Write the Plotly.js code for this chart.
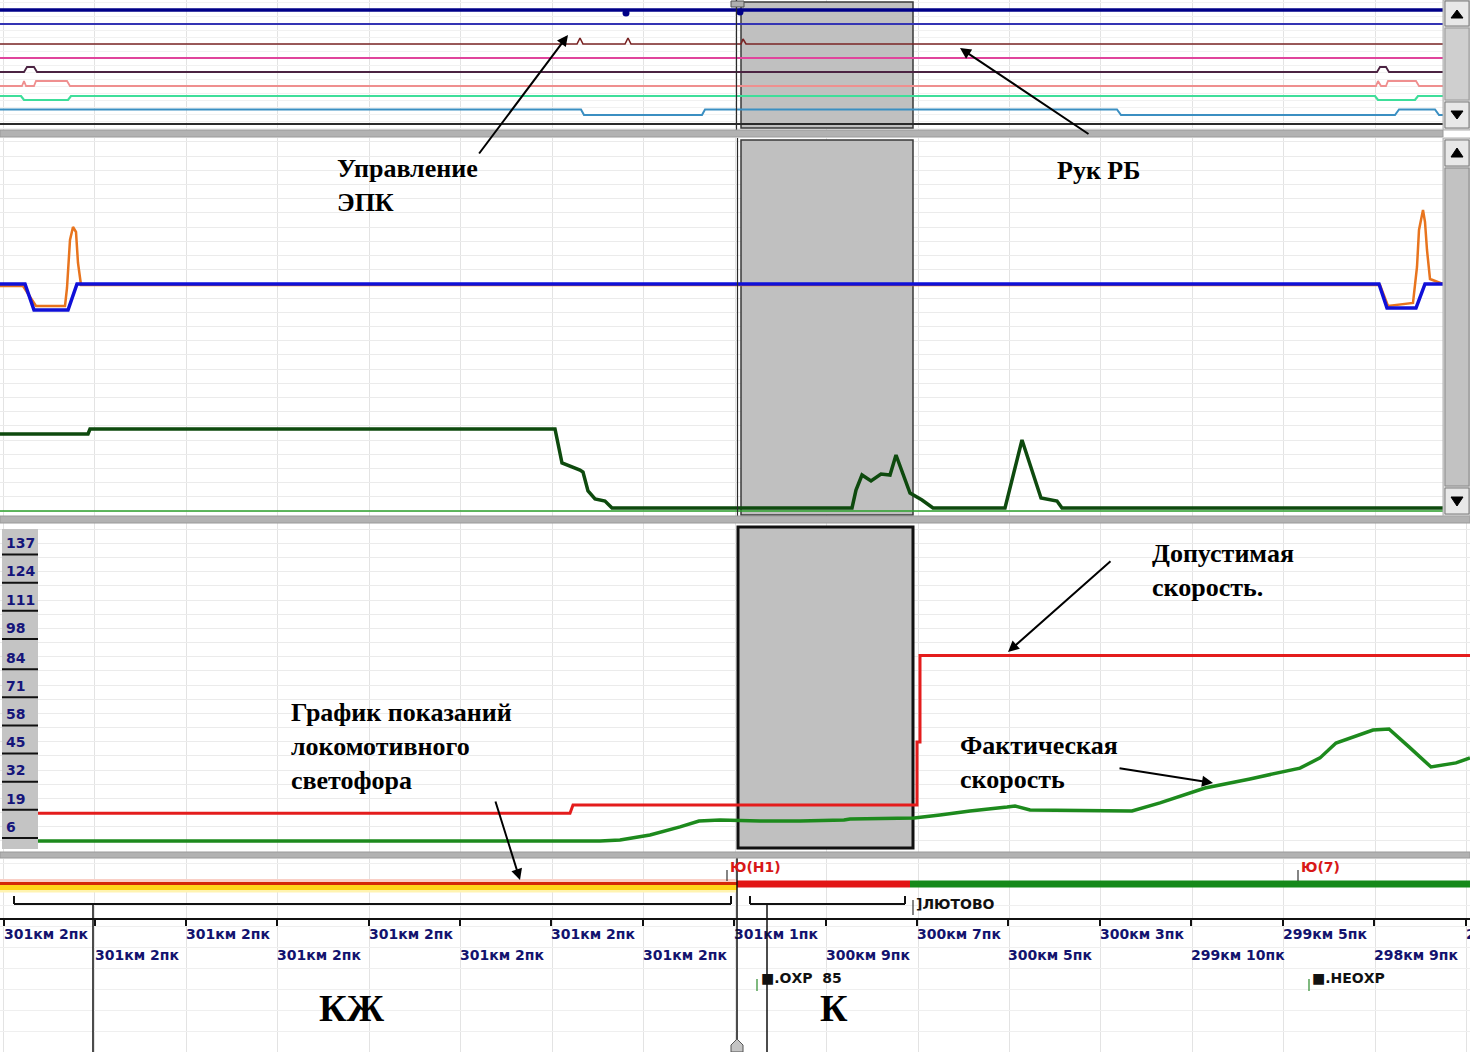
<!DOCTYPE html>
<html>
<head>
<meta charset="utf-8">
<script src="https://cdn.plot.ly/plotly-3.0.1.min.js"></script>
<style>
html,body{margin:0;padding:0;background:#ffffff;}
#chart{width:1470px;height:1052px;}
</style>
</head>
<body>
<div id="chart"></div>
<script>
// ======================= DATA =======================
// Horizontal coordinate: recording sample index (0 .. 1470)

// --- Top panel: discrete channels (level units) ---
const epkX = [0, 1443];
const epkY = [120, 120];
const epkDotX = [626, 740];
const epkDotY = [117, 118];
const ch2X = [0, 1443];
const ch2Y = [106, 106];
const rukRbX = [0, 577, 580, 583, 625, 628, 631, 741, 743, 746, 1443];
const rukRbY = [86, 86, 92, 86, 86, 92, 86, 86, 91, 86, 86];
const ch4X = [0, 1443];
const ch4Y = [72, 72];
const ch5X = [0, 24, 27, 34, 37, 1377, 1380, 1386, 1389, 1443];
const ch5Y = [58, 58, 63, 63, 58, 58, 63, 63, 58, 58];
const ch6X = [0, 22, 24, 26, 34, 36, 67, 70, 1376, 1378, 1381, 1386, 1388, 1416, 1419, 1443];
const ch6Y = [44, 44, 49, 44, 44, 49, 49, 44, 44, 49, 44, 44, 49, 49, 44, 44];
const ch7X = [0, 21, 24, 68, 71, 1375, 1378, 1415, 1418, 1443];
const ch7Y = [34, 34, 30, 30, 34, 34, 30, 30, 34, 34];
const ch8X = [0, 581, 584, 702, 705, 1117, 1121, 1395, 1399, 1435, 1439, 1443];
const ch8Y = [20.5, 20.5, 15, 15, 20.5, 20.5, 15, 15, 20.5, 20.5, 15, 15];
const ch9X = [0, 1443];
const ch9Y = [6, 6];

// --- Middle panel: analog channels (level units) ---
const brakeBlueX = [0, 25, 34, 68, 77, 1379, 1387, 1416, 1425, 1443];
const brakeBlueY = [232, 232, 206, 206, 232, 232, 208, 208, 232, 232];
const brakeOrangeX = [0, 23, 36, 65, 67, 70, 73, 76, 78, 81, 1380, 1388, 1413, 1417, 1419, 1423, 1425, 1427, 1430, 1443];
const brakeOrangeY = [230, 230, 210, 210, 228, 276, 289, 284, 253, 231, 231, 210, 213, 249, 286, 306, 294, 266, 237, 232];
const tractionX = [0, 88, 90, 555, 562, 573, 580, 583, 588, 595, 605, 612, 852, 856, 862, 871, 876, 881, 890, 896, 910, 922, 933, 1005, 1022, 1041, 1057, 1062, 1443];
const tractionY = [82, 82, 87, 87, 53, 49, 46, 44, 25, 17, 15, 8, 8, 26, 41, 35, 39, 42, 41, 61, 23, 16, 8, 8, 76, 18, 15, 8, 8];
const baseX = [0, 1443];
const baseY = [5, 5];

// --- Bottom panel: speeds, km/h ---
const speedTicks = [137, 124, 111, 98, 84, 71, 58, 45, 32, 19, 6];
const allowedX = [38, 570, 573, 917, 917, 920, 920, 1470];
const allowedV = [12.8, 12.8, 16.6, 16.6, 45.8, 45.8, 85.8, 85.8];
const actualX = [38, 600, 620, 650, 680, 699, 720, 760, 800, 844, 850, 914, 940, 970, 1007, 1015, 1030, 1100, 1132, 1160, 1205, 1250, 1300, 1320, 1336, 1373, 1389, 1409, 1431, 1456, 1470];
const actualV = [0, 0, 0.5, 2.8, 6.5, 9.2, 9.7, 9.2, 9.2, 9.7, 10.2, 10.6, 12.0, 13.9, 15.7, 16.2, 14.3, 14.3, 13.9, 17.6, 24.5, 28.7, 33.7, 38.4, 45.3, 51.3, 51.8, 43.5, 34.2, 36.1, 38.4];

// --- Track strip: locomotive signal & km posts ---
const sigStart = [0, 737, 910];
const sigEnd = [737, 910, 1470];
const sigKind = ['КЖ', 'К', 'З'];
const kmX = [4, 95, 186, 277, 369, 460, 551, 643, 734, 826, 917, 1008, 1100, 1191, 1283, 1374, 1466];
const kmLabels = ['301км 2пк', '301км 2пк', '301км 2пк', '301км 2пк', '301км 2пк', '301км 2пк', '301км 2пк', '301км 2пк',
                  '301км 1пк', '300км 9пк', '300км 7пк', '300км 5пк', '300км 3пк', '299км 10пк', '299км 5пк', '298км 9пк', '298км 7пк'];
const selWindow = [741, 913];

// ======================= HELPERS =======================
const W = 1470, H = 1052;
const PX = p => p / W;
const PY = p => 1 - p / H;
const traces = [];
function addLine(xs, ys, ya, color, width, extra) {
  traces.push(Object.assign({type: 'scatter', mode: 'lines', x: xs, y: ys, xaxis: 'x', yaxis: ya,
    line: {color: color, width: width}, hoverinfo: 'skip', showlegend: false}, extra || {}));
}
const shapes = [];
function rectPx(x0, y0, x1, y1, fill, lc, lw, layer) {
  shapes.push({type: 'rect', xref: 'paper', yref: 'paper', x0: PX(x0), x1: PX(x1), y0: PY(y1), y1: PY(y0),
    fillcolor: fill, line: {color: lc || fill, width: lw || 0}, layer: layer || 'above'});
}
function linePx(x0, y0, x1, y1, color, w) {
  shapes.push({type: 'line', xref: 'paper', yref: 'paper', x0: PX(x0), x1: PX(x1), y0: PY(y0), y1: PY(y1),
    line: {color: color, width: w}, layer: 'above'});
}
function polyPx(pts, fill, lc) {
  shapes.push({type: 'path', xref: 'paper', yref: 'paper',
    path: 'M' + pts.map(p => PX(p[0]) + ',' + PY(p[1])).join('L') + 'Z',
    fillcolor: fill, line: {color: lc || fill, width: 1}, layer: 'above'});
}

// ======================= TRACES =======================
// top
addLine(ch9X, ch9Y, 'y', '#2a2a2a', 2);
addLine(ch8X, ch8Y, 'y', '#3b8fc2', 2);
addLine(ch7X, ch7Y, 'y', '#3ede9a', 2.2);
addLine(ch6X, ch6Y, 'y', '#ef8f8f', 1.8);
addLine(ch5X, ch5Y, 'y', '#4b2342', 1.8);
addLine(ch4X, ch4Y, 'y', '#e0449c', 2.2);
addLine(rukRbX, rukRbY, 'y', '#7a2424', 1.6);
addLine(ch2X, ch2Y, 'y', '#3434b4', 2.2);
addLine(epkX, epkY, 'y', '#000088', 3.5);
traces.push({type: 'scatter', mode: 'markers', x: epkDotX, y: epkDotY, xaxis: 'x', yaxis: 'y',
  marker: {color: '#000088', size: 7}, hoverinfo: 'skip', showlegend: false});

// middle
addLine(baseX, baseY, 'y2', '#2aa02a', 1.5);
addLine(brakeOrangeX, brakeOrangeY, 'y2', '#e8741e', 2.5);
addLine(brakeBlueX, brakeBlueY, 'y2', '#1010d8', 3.5);
addLine(tractionX, tractionY, 'y2', '#0e4a0e', 3.5);

// bottom
addLine(allowedX, allowedV, 'y3', '#e41c1c', 3);
addLine(actualX, actualV, 'y3', '#1d8a1d', 3.5);

// track strip : signal bands
sigKind.forEach((k, i) => {
  const xs = [sigStart[i], sigEnd[i]];
  if (k === 'КЖ') {
    addLine(xs, [171.5, 171.5], 'y4', '#f9cfc6', 3);
    addLine(xs, [161, 161], 'y4', '#fff3b0', 3);
    addLine(xs, [164.5, 164.5], 'y4', '#ffd61a', 5);
    addLine(xs, [168.5, 168.5], 'y4', '#d42a08', 3);
  } else if (k === 'К') {
    addLine(xs, [168, 168], 'y4', '#e21515', 7);
  } else {
    addLine(xs, [168, 168], 'y4', '#15891a', 7);
  }
});
// km axis & posts
const postX = [], postY = [];
kmX.forEach(x => { postX.push(x, x, null); postY.push(133, 126, null); });
addLine([0, 1470], [133, 133], 'y4', '#111111', 2);
addLine(postX, postY, 'y4', '#111111', 2);
const r1x = [], r1t = [], r2x = [], r2t = [];
kmX.forEach((x, i) => { if (i % 2 === 0) { r1x.push(x); r1t.push(kmLabels[i]); } else { r2x.push(x); r2t.push(kmLabels[i]); } });
const kmFont = {family: 'DejaVu Sans', size: 14, color: '#13136e', weight: 'bold'};
traces.push({type: 'scatter', mode: 'text', x: r1x, y: r1x.map(() => 116.5), text: r1t, textposition: 'middle right',
  xaxis: 'x', yaxis: 'y4', cliponaxis: false, hoverinfo: 'skip', showlegend: false, textfont: kmFont});
traces.push({type: 'scatter', mode: 'text', x: r2x, y: r2x.map(() => 95.5), text: r2t, textposition: 'middle right',
  xaxis: 'x', yaxis: 'y4', cliponaxis: false, hoverinfo: 'skip', showlegend: false, textfont: kmFont});

// ======================= SHAPES =======================
// selection window (gray), one per panel, tied to the panel axes
shapes.push({type: 'rect', xref: 'x', yref: 'y', x0: selWindow[0], x1: selWindow[1], y0: 2, y1: 128,
  fillcolor: '#c0c0c0', line: {color: '#3a3a3a', width: 1.5}, layer: 'between'});
shapes.push({type: 'rect', xref: 'x', yref: 'y2', x0: selWindow[0], x1: selWindow[1], y0: 1, y1: 376,
  fillcolor: '#c0c0c0', line: {color: '#3a3a3a', width: 1.5}, layer: 'between'});
shapes.push({type: 'rect', xref: 'x', yref: 'y3', x0: selWindow[0] - 3, x1: selWindow[1], y0: -3.2, y1: 145.2,
  fillcolor: '#c0c0c0', line: {color: '#111111', width: 3}, layer: 'between'});
// cursor lines
linePx(736.5, 0, 736.5, 130, '#2a2a2a', 1.2);
linePx(737.5, 138, 737.5, 516, '#2a2a2a', 1.2);
rectPx(731, 1, 744, 7, '#b0b0b0', '#555555', 1);
linePx(737, 858, 737, 1043, '#111111', 1.5);
polyPx([[731, 1052], [731, 1045], [737, 1039], [743, 1045], [743, 1052]], '#c4c4c4', '#555555');

// separator bars between panels
rectPx(0, 130, 1443, 137, '#b2b2b2', '#9a9a9a', 1);
rectPx(0, 516, 1470, 523, '#b2b2b2', '#9a9a9a', 1);
rectPx(0, 852, 1470, 858, '#b2b2b2', '#9a9a9a', 1);

// scrollbars
rectPx(1443, 0, 1470, 130, '#d6d6d6', '#b0b0b0', 1);
rectPx(1445, 1, 1469, 26, '#e8e8e8', '#7a7a7a', 1);
polyPx([[1451, 18], [1463, 18], [1457, 10]], '#000000');
rectPx(1445, 28, 1469, 100, '#cfcfcf', '#9a9a9a', 1);
rectPx(1445, 102, 1469, 128, '#e8e8e8', '#7a7a7a', 1);
polyPx([[1451, 111], [1463, 111], [1457, 119]], '#000000');
rectPx(1443, 138, 1470, 516, '#d6d6d6', '#b0b0b0', 1);
rectPx(1445, 140, 1469, 166, '#e8e8e8', '#7a7a7a', 1);
polyPx([[1451, 157], [1463, 157], [1457, 148]], '#000000');
rectPx(1445, 168, 1469, 486, '#c2c2c2', '#8a8a8a', 1);
rectPx(1445, 488, 1469, 514, '#e8e8e8', '#7a7a7a', 1);
polyPx([[1451, 497], [1463, 497], [1457, 506]], '#000000');

// speed label column
rectPx(2, 529, 38, 849, '#c4c4c4', '#c4c4c4', 0);
speedTicks.forEach(v => {
  shapes.push({type: 'line', xref: 'paper', yref: 'y3', x0: PX(2), x1: PX(38), y0: v - 4.6, y1: v - 4.6,
    line: {color: '#111111', width: 2}, layer: 'above'});
});

// track strip brackets & markers
linePx(14, 896, 14, 904, '#111', 2); linePx(14, 904, 731, 904, '#111', 2); linePx(731, 904, 731, 896, '#111', 2);
linePx(93, 904, 93, 1052, '#111', 1.5);
linePx(750, 896, 750, 904, '#111', 2); linePx(750, 904, 905, 904, '#111', 2); linePx(905, 904, 905, 896, '#111', 2);
linePx(767, 904, 767, 1052, '#111', 1.5);
linePx(727, 870, 727, 881, '#333', 1.2);
linePx(1298, 870, 1298, 881, '#333', 1.2);
linePx(913, 900, 913, 915, '#333', 1.2);
linePx(757, 979, 757, 991, '#2a8a2a', 1.2);
linePx(1309, 979, 1309, 991, '#2a8a2a', 1.2);

// ======================= ANNOTATIONS =======================
const annotations = [];
const serif = {family: 'Liberation Serif', size: 26, color: '#000000'};
[
  ['Управление<br>ЭПК', 335, 185.5],
  ['Рук РБ', 1055, 170],
  ['Допустимая<br>скорость.', 1150, 570],
  ['График показаний<br>локомотивного<br>светофора', 289, 746],
  ['Фактическая<br>скорость', 958, 762]
].forEach(a => annotations.push({text: '<b>' + a[0] + '</b>', x: PX(a[1]), y: PY(a[2]), xref: 'paper', yref: 'paper',
  xanchor: 'left', yanchor: 'middle', align: 'left', showarrow: false, font: serif}));
[
  [568, 35, 478, 155], [960, 48, 1090, 135], [1008, 652, 1112, 560], [520, 880, 495, 800], [1213, 783, 1118, 768]
].forEach(a => annotations.push({text: '', x: PX(a[0]), y: PY(a[1]), xref: 'paper', yref: 'paper',
  ax: a[2] - a[0], ay: a[3] - a[1], showarrow: true, arrowhead: 2, arrowsize: 1.1, arrowwidth: 2,
  arrowcolor: '#000000', standoff: 0}));
annotations.push({text: '<b>КЖ</b>', x: PX(352), y: PY(1008), xref: 'paper', yref: 'paper', showarrow: false,
  xanchor: 'center', yanchor: 'middle', font: {family: 'Liberation Serif', size: 38, color: '#000'}});
annotations.push({text: '<b>К</b>', x: PX(834), y: PY(1008), xref: 'paper', yref: 'paper', showarrow: false,
  xanchor: 'center', yanchor: 'middle', font: {family: 'Liberation Serif', size: 38, color: '#000'}});
speedTicks.forEach(v => annotations.push({text: '<b>' + v + '</b>', x: PX(4), y: v + 0.6, xref: 'paper', yref: 'y3',
  xanchor: 'left', yanchor: 'middle', showarrow: false, font: {family: 'DejaVu Sans', size: 14, color: '#15157a'}}));
const small = (t, x, y, c) => annotations.push({text: '<b>' + t + '</b>', x: PX(x), y: PY(y), xref: 'paper', yref: 'paper',
  xanchor: 'left', yanchor: 'middle', showarrow: false, font: {family: 'DejaVu Sans', size: 14, color: c}});
small('Ю(Н1)', 728, 867, '#d81818');
small('Ю(7)', 1299, 867, '#d81818');
small(']ЛЮТОВО', 914, 904, '#111111');
small('■.ОХР\u00a0\u00a085', 759, 978, '#111111');
small('■.НЕОХР', 1310, 978, '#111111');

// ======================= LAYOUT =======================
const yBase = {showticklabels: false, zeroline: false, ticks: '', showline: false, fixedrange: true};
const layout = {
  width: W, height: H,
  margin: {l: 0, r: 0, t: 0, b: 0, pad: 0},
  paper_bgcolor: '#ffffff', plot_bgcolor: '#ffffff',
  showlegend: false,
  xaxis: {range: [0, 1470], domain: [0, 1], showgrid: true, gridcolor: '#e3e3e3', gridwidth: 1,
    tick0: 3.5, dtick: 91.45, showticklabels: false, zeroline: false, ticks: '', showline: false, fixedrange: true},
  yaxis: Object.assign({domain: [PY(130), 1], range: [0, 130], showgrid: true, gridcolor: '#f1f1f1', tick0: 2, dtick: 7}, yBase),
  yaxis2: Object.assign({domain: [PY(516), PY(138)], range: [0, 378], showgrid: true, gridcolor: '#ebebeb', tick0: 5, dtick: 14.2}, yBase),
  yaxis3: Object.assign({domain: [PY(852), PY(523)], range: [-5.09, 147], showgrid: true, gridcolor: '#ebebeb', tick0: 0, dtick: 6.55}, yBase),
  yaxis4: Object.assign({domain: [0, PY(859)], range: [0, 193], showgrid: true, gridcolor: '#efefef', tick0: 0, dtick: 21}, yBase),
  shapes: shapes,
  annotations: annotations
};
Plotly.newPlot('chart', traces, layout, {displayModeBar: false, staticPlot: true});
</script>
</body>
</html>
